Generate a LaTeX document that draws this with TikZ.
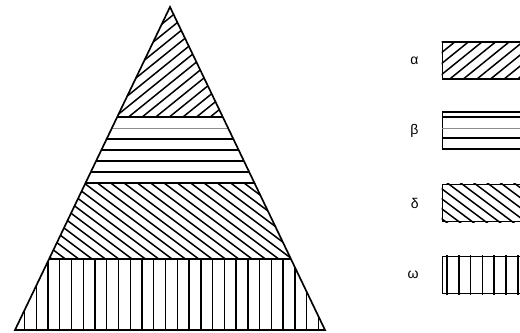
\documentclass[tikz,border=0pt]{standalone}
\usepackage{fontspec}
\setmainfont{Liberation Sans}
\usetikzlibrary{positioning}

\begin{document}
\begin{tikzpicture}[
    x=0.02cm, y=-0.02cm,
    outline/.style={line width=0.95pt},
    hatch/.style={line width=0.85pt},
    faint/.style={line width=0.4pt, black!45},
    legbox/.style={draw, line width=0.95pt, minimum width=1.9cm,
        minimum height=0.74cm, inner sep=0pt},
    leglabel/.style={font=\footnotesize, inner sep=1pt},
]
    \clip (0,0) rectangle (520,333);

    % Triangle corners
    \coordinate (apex) at (170,7);
    \coordinate (bl) at (15,330);
    \coordinate (br) at (325,330);

    % Bands inside the triangle
    \begin{scope}
        \clip (apex) -- (bl) -- (br) -- cycle;
        % alpha
        \foreach \c in {100,111,...,300} {
            \draw[hatch] (0,\c) -- (340,\c-275);
        }
        \fill[white] (0,117) rectangle (340,340);
        % beta
        \foreach \k in {0,2,3,4,5,6} {
            \draw[outline] (0,117+11*\k) -- (340,117+11*\k);
        }
        \draw[faint] (0,128) -- (340,128);
        % delta
        \begin{scope}
            \clip (0,184) rectangle (340,259);
            \foreach \c in {-40,-30,...,230} {
                \draw[hatch] (0,\c) -- (340,\c+255);
            }
        \end{scope}
        % omega
        \draw[outline] (0,259) -- (340,259);
        \foreach \k in {-3,...,24} {
            \draw[hatch] (48+11.75*\k,259) -- (48+11.75*\k,335);
        }
    \end{scope}
    \draw[outline, line join=miter] (apex) -- (bl) -- (br) -- cycle;

    % Legend boxes
    \node[legbox] (boxa) at (490,60.5) {};
    \node[legbox] (boxb) at (490,130.5) {};
    \node[legbox] (boxd) at (490,203) {};
    \node[legbox] (boxo) at (490,275) {};

    \begin{scope}
        \clip (boxa.south west) rectangle (boxa.north east);
        \foreach \c in {40,51,...,180} {
            \draw[hatch] (430,\c) -- (540,\c-89);
        }
    \end{scope}
    \draw[outline] (boxb.west |- 0,117) -- (boxb.east |- 0,117);
    \draw[faint] (boxb.west |- 0,128) -- (boxb.east |- 0,128);
    \draw[outline] (boxb.west |- 0,138) -- (boxb.east |- 0,138);
    \begin{scope}
        \clip (boxd.south west) rectangle (boxd.north east);
        \foreach \c in {100,110,...,230} {
            \draw[hatch] (430,\c) -- (540,\c+82.5);
        }
    \end{scope}
    \begin{scope}
        \clip (boxo.south west) rectangle (boxo.north east);
        \foreach \k in {0,...,7} {
            \draw[hatch] (447+11.8*\k,250) -- (447+11.8*\k,300);
        }
    \end{scope}

    % Legend labels
    \node[leglabel, left=0.42cm of boxa] (laba) {α};
    \node[leglabel, left=0.42cm of boxb] (labb) {β};
    \node[leglabel, left=0.42cm of boxd] (labd) {δ};
    \node[leglabel, left=0.42cm of boxo] (labo) {ω};
\end{tikzpicture}
\end{document}
